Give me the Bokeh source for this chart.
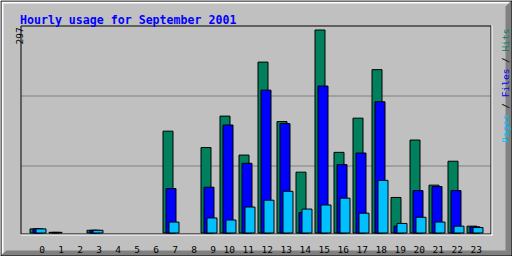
import math
from bokeh.plotting import figure
from bokeh.models import ColumnDataSource, Range1d, CDSView, BooleanFilter
from bokeh.transform import dodge
from bokeh.core.properties import value
from bokeh.embed import file_html
from bokeh.resources import INLINE

# ---------------- data ----------------
TITLE = "Hourly usage for September 2001"
hours = list(range(24))
hour_labels = [str(h) for h in hours]
hits = [6, 1, 0, 4, 0, 0, 0, 149, 0, 125, 171, 114, 250, 163, 89, 297, 118, 168, 239, 52, 136, 70, 105, 10]
files = [6, 1, 0, 4, 0, 0, 0, 65, 0, 67, 158, 102, 209, 160, 30, 215, 100, 117, 192, 10, 62, 68, 62, 9]
pages = [6, 0, 0, 4, 0, 0, 0, 16, 0, 22, 19, 38, 48, 61, 35, 41, 51, 29, 77, 14, 23, 16, 10, 8]
legend_names = ["Pages", "Files", "Hits"]

# ---------------- style / layout ----------------
W, H = 512, 256
BG = "#c0c0c0"
DARK = "#808080"
C_HITS, C_FILES, C_PAGES = "#00805c", "#0000ff", "#00c0ff"
FONT = "DejaVu Sans Mono"
HOUR_PX = 19.0      # spacing of hour groups
HOUR0_PX = 37.5     # centre of first group
BASE_PX = 232.5     # screen row of value 0
TOP_PX = 29.5       # screen row of the maximum
ymax = max(hits)
UNIT_PX = (BASE_PX - TOP_PX) / ymax
BAR_W = 10 / HOUR_PX
BAR_STEP = 3 / HOUR_PX


def X(px):
    return (px - HOUR0_PX) / HOUR_PX


def Y(py):
    return (BASE_PX - py) / UNIT_PX


p = figure(width=W, height=H, title=None,
           x_range=Range1d(X(0), X(W)), y_range=Range1d(Y(H), Y(0)),
           output_backend="svg", toolbar_location=None,
           x_axis_type=None, y_axis_type=None, min_border=0,
           outline_line_color=None, background_fill_color=BG, border_fill_color=BG)

# outer bevelled border
p.quad(left=X(1), right=X(W - 1), top=Y(1), bottom=Y(3), fill_color="white", line_color=None)
p.quad(left=X(1), right=X(3), top=Y(1), bottom=Y(H - 1), fill_color="white", line_color=None)
p.patch(x=[X(W - 7), X(W - 1), X(W), X(W), X(0), X(0), X(6), X(W - 7)],
        y=[Y(6), Y(0), Y(0), Y(H), Y(H), Y(H - 1), Y(H - 6), Y(H - 6)],
        fill_color=DARK, line_color=None)
p.quad(left=X(0.5), right=X(W - 0.5), top=Y(0.5), bottom=Y(H - 0.5),
       fill_color=None, line_color="black", line_width=1)

# grid lines
grid_rows = [25 + 70 * i + 0.5 for i in (1, 2)]
p.segment(x0=X(21), x1=X(490), y0=[Y(r) for r in grid_rows], y1=[Y(r) for r in grid_rows],
          line_color=DARK, line_width=1)

# bars
src = ColumnDataSource(dict(hour=hours, hits=hits, files=files, pages=pages, label=hour_labels))
for k, (col, colour) in enumerate([("hits", C_HITS), ("files", C_FILES), ("pages", C_PAGES)]):
    view = CDSView(filter=BooleanFilter([v > 0 for v in src.data[col]]))
    p.vbar(x=dodge("hour", (k - 1) * BAR_STEP, range=p.x_range), top=col, bottom=0,
           width=BAR_W, source=src, view=view,
           fill_color=colour, line_color="black", line_width=1)

# plot frame
p.quad(left=X(20.5), right=X(490.5), top=Y(25.5), bottom=Y(233.5),
       fill_color=None, line_color="black", line_width=1)
p.segment(x0=[X(491.5), X(20.5)], x1=[X(491.5), X(492)], y0=[Y(25), Y(234.5)], y1=[Y(235), Y(234.5)],
          line_color="white", line_width=1)

# hour labels
p.text(x=dodge("hour", 7 / HOUR_PX, range=p.x_range), y=Y(248.5), text="label", source=src,
       text_align="right", text_baseline="alphabetic", text_color="black",
       text_font=value(FONT), text_font_size=value("9.5px"))

# title
p.text(x=[X(19.5)], y=[Y(19)], text=[TITLE], text_align="left", text_baseline="alphabetic",
       text_color="#0000ff", text_font=value(FONT), text_font_style="bold",
       text_font_size=value("11.6px"))

# maximum value label (rotated)
p.text(x=[X(18.5)], y=[Y(44)], text=[str(ymax)], angle=math.pi / 2,
       text_align="left", text_baseline="alphabetic", text_color="black",
       text_font=value(FONT), text_font_size=value("9.5px"))

# right-hand legend (rotated, multi-coloured)
SMALL = 9.5
ADV = 0.602 * SMALL
pieces = []
idx = 0
for i, (name, colour) in enumerate(zip(legend_names, [C_PAGES, C_FILES, C_HITS])):
    if i > 0:
        pieces.append(("/", "black", idx + 1))
        idx += 3
    pieces.append((name, colour, idx))
    idx += len(name)
start_px = 142.5
p.text(x=[X(505)] * len(pieces), y=[Y(start_px - c * ADV) for _, _, c in pieces],
       text=[t for t, _, _ in pieces], text_color=[c for _, c, _ in pieces],
       angle=math.pi / 2, text_align="left", text_baseline="alphabetic",
       text_font=value(FONT), text_font_size=value(f"{SMALL}px"))

open("out.html", "w").write(file_html(p, INLINE))
